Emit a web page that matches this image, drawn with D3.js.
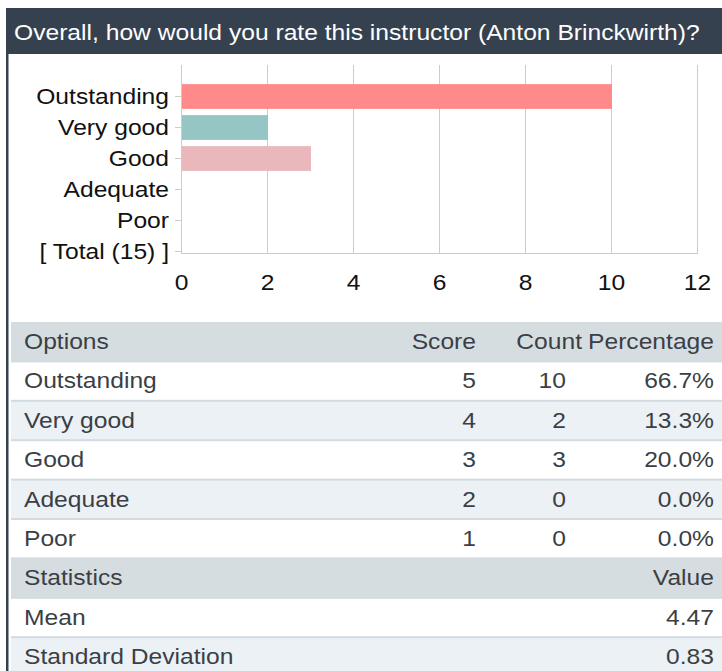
<!DOCTYPE html>
<html>
<head>
<meta charset="utf-8">
<script src="https://cdn.jsdelivr.net/npm/d3@7"></script>
<style>
  body { margin: 0; background: #fff; }
  svg text { font-family: "Liberation Sans", Arial, sans-serif; font-size: 22px; }
</style>
</head>
<body>
<svg id="chart" width="722" height="671"></svg>
<script>
// chart data
let title = "Overall, how would you rate this instructor (Anton Brinckwirth)?"
let categories = ["Outstanding", "Very good", "Good", "Adequate", "Poor", "[ Total (15) ]"]
let counts = [10, 2, 3, 0, 0, null]
let barColors = ["#ff8a8a", "#95c5c5", "#e9b7bc", "#ccc", "#ccc", "#ccc"]
let xTicks = [0, 2, 4, 6, 8, 10, 12]

// table data
let tableHead = ["Options", "Score", "Count", "Percentage"]
let options = ["Outstanding", "Very good", "Good", "Adequate", "Poor"]
let scores = [5, 4, 3, 2, 1]
let optCounts = [10, 2, 3, 0, 0]
let percents = ["66.7%", "13.3%", "20.0%", "0.0%", "0.0%"]
let statsHead = ["Statistics", "Value"]
let statNames = ["Mean", "Standard Deviation"]
let statValues = ["4.47", "0.83"]

let svg = d3.select("#chart")
let dark = "#364150"
let sx = 1.12 // the source font is drawn a bit wide

// place text at x,y with the horizontal stretch
let pos = (px, py) => "translate(" + px + "," + py + ") scale(" + sx + ",1)"

// header band + left border
svg.append("rect").attr("x", 6).attr("y", 8).attr("width", 716).attr("height", 46).attr("fill", dark)
svg.append("rect").attr("x", 6).attr("y", 8).attr("width", 2.5).attr("height", 663).attr("fill", dark)
svg.append("text")
  .attr("transform", pos(14, 40))
  .attr("fill", "#fff")
  .text(title)

// bar chart
let x = d3.scaleLinear().domain([0, 12]).range([181, 697])
let y = d3.scaleBand().domain(categories).range([81, 267]).paddingInner(0.2).paddingOuter(0.1)
let gridTop = 65, baseY = 253.5

svg.append("g").selectAll("line")
  .data(xTicks)
  .join("line")
    .attr("x1", d => x(d) + 0.5).attr("x2", d => x(d) + 0.5)
    .attr("y1", gridTop).attr("y2", baseY)
    .attr("stroke", "#ccc").attr("stroke-width", 1)

svg.append("line")
  .attr("x1", x(0)).attr("x2", x(12) + 1)
  .attr("y1", baseY).attr("y2", baseY)
  .attr("stroke", "#ccc")

svg.append("g").selectAll("rect")
  .data(categories.map((c, i) => ({c: c, v: counts[i], clr: barColors[i]})).filter(d => d.v))
  .join("rect")
    .attr("x", x(0) + 1)
    .attr("y", d => y(d.c))
    .attr("width", d => x(d.v) - x(0))
    .attr("height", y.bandwidth())
    .attr("fill", d => d.clr)

// y labels + ticks
let yl = svg.append("g").selectAll("g")
  .data(categories)
  .join("g")
    .attr("transform", d => "translate(0," + (y(d) + y.bandwidth() / 2) + ")")
yl.append("line").attr("x1", 175).attr("x2", 181).attr("stroke", "#ccc")
yl.append("text")
  .attr("transform", pos(169, 0))
  .attr("dy", "0.36em")
  .attr("text-anchor", "end")
  .attr("fill", "#111")
  .text(d => d)

// x tick labels
svg.append("g").selectAll("text")
  .data(xTicks)
  .join("text")
    .attr("transform", d => pos(x(d) + 0.5, 290))
    .attr("text-anchor", "middle")
    .attr("fill", "#111")
    .text(d => d)

// table
let rowH = 39.4, tableTop = 322, tx0 = 11
let rows = []
rows.push({bg: "#d6dde1", cells: [[tableHead[0], 24, "start"], [tableHead[1], 476, "end"], [tableHead[2], 582, "end"], [tableHead[3], 714, "end"]]})
options.forEach((o, i) => {
  rows.push({bg: i % 2 ? "#ebf1f5" : "#fff", cells: [[o, 24, "start"], [scores[i], 476, "end"], [optCounts[i], 566, "end"], [percents[i], 714, "end"]]})
})
rows.push({bg: "#d6dde1", cells: [[statsHead[0], 24, "start"], [statsHead[1], 714, "end"]]})
statNames.forEach((s, i) => {
  rows.push({bg: i % 2 ? "#ebf1f5" : "#fff", cells: [[s, 24, "start"], [statValues[i], 714, "end"]]})
})

let tr = svg.append("g").selectAll("g")
  .data(rows)
  .join("g")
    .attr("transform", (d, i) => "translate(0," + (tableTop + i * rowH) + ")")
tr.append("rect")
  .attr("x", tx0).attr("width", 722 - tx0).attr("height", rowH)
  .attr("fill", d => d.bg)
tr.filter((d, i) => i > 0).append("rect")
  .attr("x", tx0).attr("y", -1).attr("width", 722 - tx0).attr("height", 2)
  .attr("fill", "#d3dbe0")
tr.selectAll("text")
  .data(d => d.cells)
  .join("text")
    .attr("transform", d => pos(d[1], 27))
    .attr("text-anchor", d => d[2])
    .attr("fill", "#3b3f45")
    .text(d => d[0])
</script>
</body>
</html>
